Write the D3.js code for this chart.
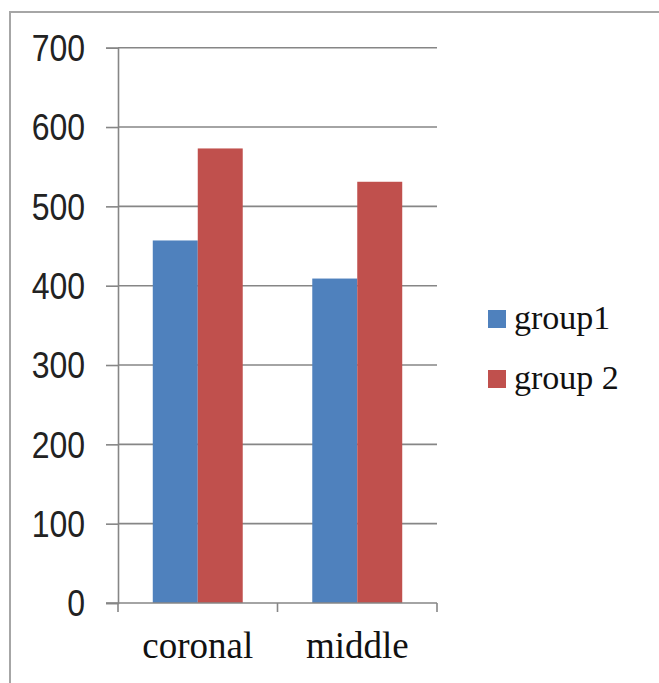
<!DOCTYPE html>
<html>
<head>
<meta charset="utf-8">
<script src="https://cdn.jsdelivr.net/npm/d3@7"></script>
<style>
  html, body { margin: 0; padding: 0; background: #fff; }
  svg { display: block; }
</style>
</head>
<body>
<svg id="chart" width="659" height="683"></svg>
<script>
// Bar chart data
const categories = ["coronal", "middle"];
const seriesNames = ["group1", "group 2"];
const group1Values = [457, 409];
const group2Values = [573, 531];
const yTicks = [0, 100, 200, 300, 400, 500, 600, 700];
const seriesColors = ["#4F81BD", "#C0504D"];

const svg = d3.select("#chart");
const W = 659, H = 683;

// outer frame (open on right and bottom)
svg.append("rect")
  .attr("x", 10).attr("y", 12)
  .attr("width", W + 20).attr("height", H + 20)
  .attr("fill", "none")
  .attr("stroke", "#a6a6a6")
  .attr("stroke-width", 2);

const plot = { left: 118, right: 437, top: 47.7, bottom: 603 };

const y = d3.scaleLinear().domain([0, 700]).range([plot.bottom, plot.top]);
const x0 = d3.scaleBand().domain(categories).range([plot.left, plot.right]).paddingInner(0).paddingOuter(0);
const bw = x0.bandwidth();
const x1 = d3.scaleBand().domain(seriesNames).range([bw * 0.218, bw * 0.782]).padding(0);

const axisColor = "#868686";

// horizontal gridlines
svg.append("g")
  .selectAll("line")
  .data(yTicks.filter(d => d > 0))
  .join("line")
  .attr("x1", plot.left).attr("x2", plot.right)
  .attr("y1", d => y(d)).attr("y2", d => y(d))
  .attr("stroke", axisColor)
  .attr("stroke-width", 1.6);

// bars
const rows = categories.map((c, i) => ({ cat: c, vals: [group1Values[i], group2Values[i]] }));
const groups = svg.append("g")
  .selectAll("g")
  .data(rows)
  .join("g")
  .attr("transform", d => `translate(${x0(d.cat)},0)`);

groups.selectAll("rect")
  .data(d => d.vals.map((v, j) => ({ key: seriesNames[j], value: v, color: seriesColors[j] })))
  .join("rect")
  .attr("x", d => x1(d.key))
  .attr("width", x1.bandwidth())
  .attr("y", d => y(d.value))
  .attr("height", d => y(0) - y(d.value))
  .attr("fill", d => d.color);

// y axis
const yAxis = svg.append("g")
  .attr("transform", `translate(${plot.left},0)`)
  .call(d3.axisLeft(y).tickValues(yTicks).tickSize(12).tickPadding(21).tickFormat(d3.format("d")));
yAxis.select(".domain").attr("stroke", axisColor).attr("stroke-width", 1.6);
yAxis.selectAll(".tick line").attr("stroke", axisColor).attr("stroke-width", 1.6);
yAxis.selectAll(".tick text")
  .attr("font-family", "'Liberation Sans', Arial, sans-serif")
  .attr("font-size", 32)
  .attr("fill", "#222")
  .attr("dy", null)
  .attr("dominant-baseline", "central")
  .style("transform", "scaleY(1.15)")
  .style("transform-box", "fill-box")
  .style("transform-origin", "center");

// x axis line and category boundary ticks
const xAxisG = svg.append("g").attr("transform", `translate(0,${plot.bottom})`);
xAxisG.append("line")
  .attr("x1", plot.left - 12).attr("x2", plot.right)
  .attr("y1", 0).attr("y2", 0)
  .attr("stroke", axisColor).attr("stroke-width", 1.6);
const boundaries = categories.map(c => x0(c)).concat([x0(categories[categories.length - 1]) + bw]);
xAxisG.selectAll("line.btick")
  .data(boundaries)
  .join("line")
  .attr("class", "btick")
  .attr("x1", d => d).attr("x2", d => d)
  .attr("y1", 0).attr("y2", 9)
  .attr("stroke", axisColor).attr("stroke-width", 1.6);

// category labels
const xAxis = svg.append("g")
  .attr("transform", `translate(0,${plot.bottom})`)
  .call(d3.axisBottom(x0).tickSize(0).tickPadding(0));
xAxis.select(".domain").remove();
xAxis.selectAll(".tick text")
  .attr("font-family", "'Liberation Serif', 'Times New Roman', serif")
  .attr("font-size", 37)
  .attr("fill", "#111")
  .attr("dy", null)
  .attr("y", 55);

// legend
const legend = svg.append("g")
  .selectAll("g")
  .data(seriesNames)
  .join("g")
  .attr("transform", (d, i) => `translate(488,${310 + i * 60})`);
legend.append("rect")
  .attr("width", 18).attr("height", 18)
  .attr("fill", (d, i) => seriesColors[i]);
legend.append("text")
  .attr("x", 26).attr("y", 19)
  .attr("font-family", "'Liberation Serif', 'Times New Roman', serif")
  .attr("font-size", 34)
  .attr("fill", "#111")
  .text(d => d);
</script>
</body>
</html>
